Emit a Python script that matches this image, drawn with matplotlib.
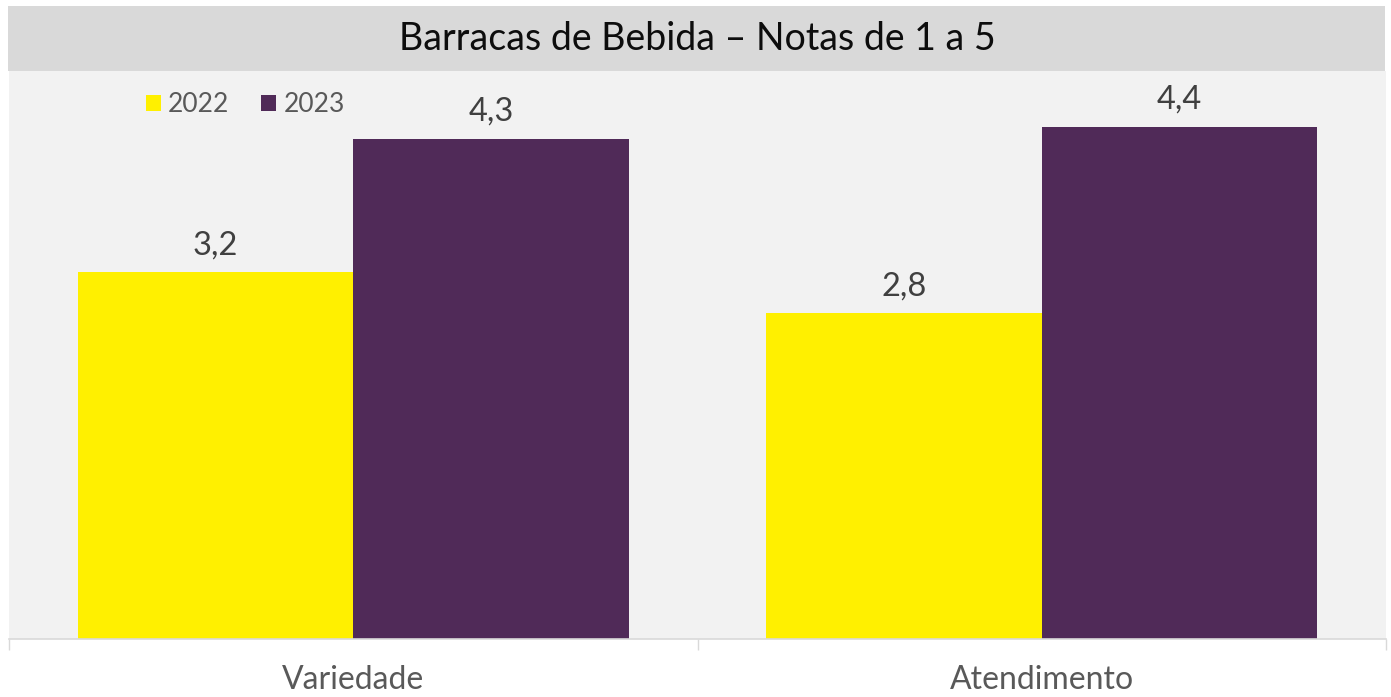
import matplotlib
matplotlib.use("Agg")
import matplotlib.pyplot as plt
from matplotlib.patches import Rectangle, Patch

# data
categories = ["Variedade", "Atendimento"]
series_names = ["2022", "2023"]
values_2022 = [3.15, 2.8]
values_2023 = [4.3, 4.4]
colors = ["#FFF000", "#502A58"]

W, H = 1391, 697
fig = plt.figure(figsize=(W / 100, H / 100), dpi=100)
fig.patch.set_facecolor("white")

def fx(px):
    return px / W

def fy(py):
    return 1 - py / H

# title band
fig.patches.append(Rectangle((fx(8), fy(71)), fx(1385) - fx(8), fy(6) - fy(71),
                             transform=fig.transFigure, facecolor="#D9D9D9",
                             edgecolor="none", zorder=0))
fig.text(fx(697), fy(50), "Barracas de Bebida \u2013 Notas de 1 a 5",
         ha="center", va="baseline", fontsize=27, family="Lato", color="#0D0D0D")

ax = fig.add_axes([fx(9), fy(639), fx(1386) - fx(9), fy(71) - fy(639)])
ax.set_facecolor("#F2F2F2")

x = list(range(len(categories)))
bw = 0.4
b1 = ax.bar([i - bw / 2 for i in x], values_2022, width=bw, color=colors[0], label=series_names[0])
b2 = ax.bar([i + bw / 2 for i in x], values_2023, width=bw, color=colors[1], label=series_names[1])

for bars in (b1, b2):
    for rect in bars:
        v = rect.get_height()
        ax.annotate(f"{v + 1e-9:.1f}".replace(".", ","),
                    (rect.get_x() + rect.get_width() / 2, v),
                    xytext=(0, 13), textcoords="offset points",
                    ha="center", va="baseline", fontsize=23.5,
                    family="Lato", color="#404040")

ax.set_xlim(-0.5, len(categories) - 0.5)
ax.set_ylim(0, 4.88)
ax.set_yticks([])
ax.set_xticks(x)
ax.set_xticklabels(categories, fontsize=23, family="Lato", color="#595959")
ax.set_xticks([i - 0.5 for i in range(len(categories) + 1)], minor=True)
ax.tick_params(axis="x", which="major", length=0, pad=19)
ax.tick_params(axis="x", which="minor", length=8, width=1, color="#D9D9D9")
for s in ("top", "left", "right"):
    ax.spines[s].set_visible(False)
ax.spines["bottom"].set_color("#D9D9D9")
ax.spines["bottom"].set_linewidth(1.2)

handles = [Patch(facecolor=c, edgecolor="none") for c in colors]
leg = fig.legend(handles, series_names, loc="center left",
                 bbox_to_anchor=(fx(146), fy(105)), ncol=2, frameon=False,
                 handlelength=0.57, handleheight=0.57,
                 handletextpad=0.27, columnspacing=1.2, borderpad=0,
                 borderaxespad=0, prop={"family": "Lato", "size": 19})
for t in leg.get_texts():
    t.set_color("#595959")

fig.savefig("out.png", dpi=100)
